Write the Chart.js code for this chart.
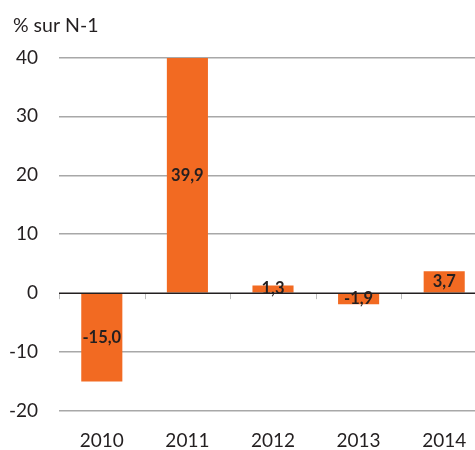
<!DOCTYPE html>
<html>
<head>
<meta charset="utf-8">
<script src="https://cdn.jsdelivr.net/npm/chart.js@4/dist/chart.umd.min.js"></script>
<style>
  html, body { margin: 0; padding: 0; background: #ffffff; overflow: hidden; }
  #wrap { width: 487px; height: 450px; }
</style>
</head>
<body>
<div id="wrap"><canvas id="c" width="487" height="450"></canvas></div>
<script>
const categories = ['2010', '2011', '2012', '2013', '2014'];
const values = [-15.0, 39.9, 1.3, -1.9, 3.7];
const yTicks = [-20, -10, 0, 10, 20, 30, 40];
const axisTitle = '% sur N-1';

const FONT = 'Lato, "Open Sans", sans-serif';
const BAR_COLOR = '#F26A22';
const TEXT_COLOR = '#231F20';

const fmt = v => v.toFixed(1).replace('.', ',');

const overlayPlugin = {
  id: 'overlay',
  afterLayout(chart) {
    if (chart.titleBlock) {
      chart.titleBlock.left += 13;
      chart.titleBlock.right += 13;
    }
  },
  afterDatasetsDraw(chart) {
    const ctx = chart.ctx;
    const xs = chart.scales.x, ys = chart.scales.y;
    const area = chart.chartArea;
    const y0 = ys.getPixelForValue(0);
    ctx.save();
    ctx.strokeStyle = '#BDBDBD';
    ctx.lineWidth = 1;
    const n = categories.length;
    for (let i = 0; i <= n; i++) {
      let x;
      if (i === 0) x = area.left;
      else if (i === n) x = area.right;
      else x = (xs.getPixelForValue(i - 1) + xs.getPixelForValue(i)) / 2;
      ctx.beginPath();
      ctx.moveTo(Math.round(x) + 0.5, y0);
      ctx.lineTo(Math.round(x) + 0.5, y0 + 6);
      ctx.stroke();
    }
    ctx.strokeStyle = '#231F20';
    ctx.lineWidth = 1.5;
    ctx.beginPath();
    ctx.moveTo(area.left, y0);
    ctx.lineTo(area.right, y0);
    ctx.stroke();
    ctx.fillStyle = TEXT_COLOR;
    ctx.font = 'bold 16.5px ' + FONT;
    ctx.textAlign = 'center';
    ctx.textBaseline = 'middle';
    const meta = chart.getDatasetMeta(0);
    meta.data.forEach((bar, i) => {
      const cy = (bar.y + bar.base) / 2;
      ctx.fillText(fmt(values[i]), bar.x, cy);
    });
    ctx.restore();
  }
};

new Chart(document.getElementById('c'), {
  type: 'bar',
  data: {
    labels: categories,
    datasets: [{
      data: values,
      backgroundColor: BAR_COLOR,
      borderWidth: 0,
      categoryPercentage: 1.0,
      barPercentage: 0.48
    }]
  },
  options: {
    responsive: false,
    animation: false,
    devicePixelRatio: 1,
    layout: { padding: { left: 0, right: 0, top: 0, bottom: 0 } },
    plugins: {
      legend: { display: false },
      tooltip: { enabled: false },
      title: {
        display: true,
        text: axisTitle,
        align: 'start',
        color: TEXT_COLOR,
        font: { family: FONT, size: 19.5, weight: 'normal' },
        padding: { top: 14, bottom: 20 }
      }
    },
    scales: {
      x: {
        grid: { display: false },
        border: { display: false },
        ticks: {
          color: TEXT_COLOR,
          font: { family: FONT, size: 19 },
          padding: 10,
          maxRotation: 0
        },
        afterFit(scale) { scale.height = 39; }
      },
      y: {
        min: -20,
        max: 40,
        afterBuildTicks(scale) { scale.ticks = yTicks.map(v => ({ value: v })); },
        grid: {
          drawTicks: false,
          color: ctx => (ctx.tick && ctx.tick.value === 0) ? 'rgba(0,0,0,0)' : '#A8A8A8',
          lineWidth: 1.5
        },
        border: { display: false },
        ticks: {
          color: TEXT_COLOR,
          font: { family: FONT, size: 19 },
          padding: 21
        },
        afterFit(scale) { scale.width = 59; }
      }
    }
  },
  plugins: [overlayPlugin]
});
</script>
</body>
</html>
